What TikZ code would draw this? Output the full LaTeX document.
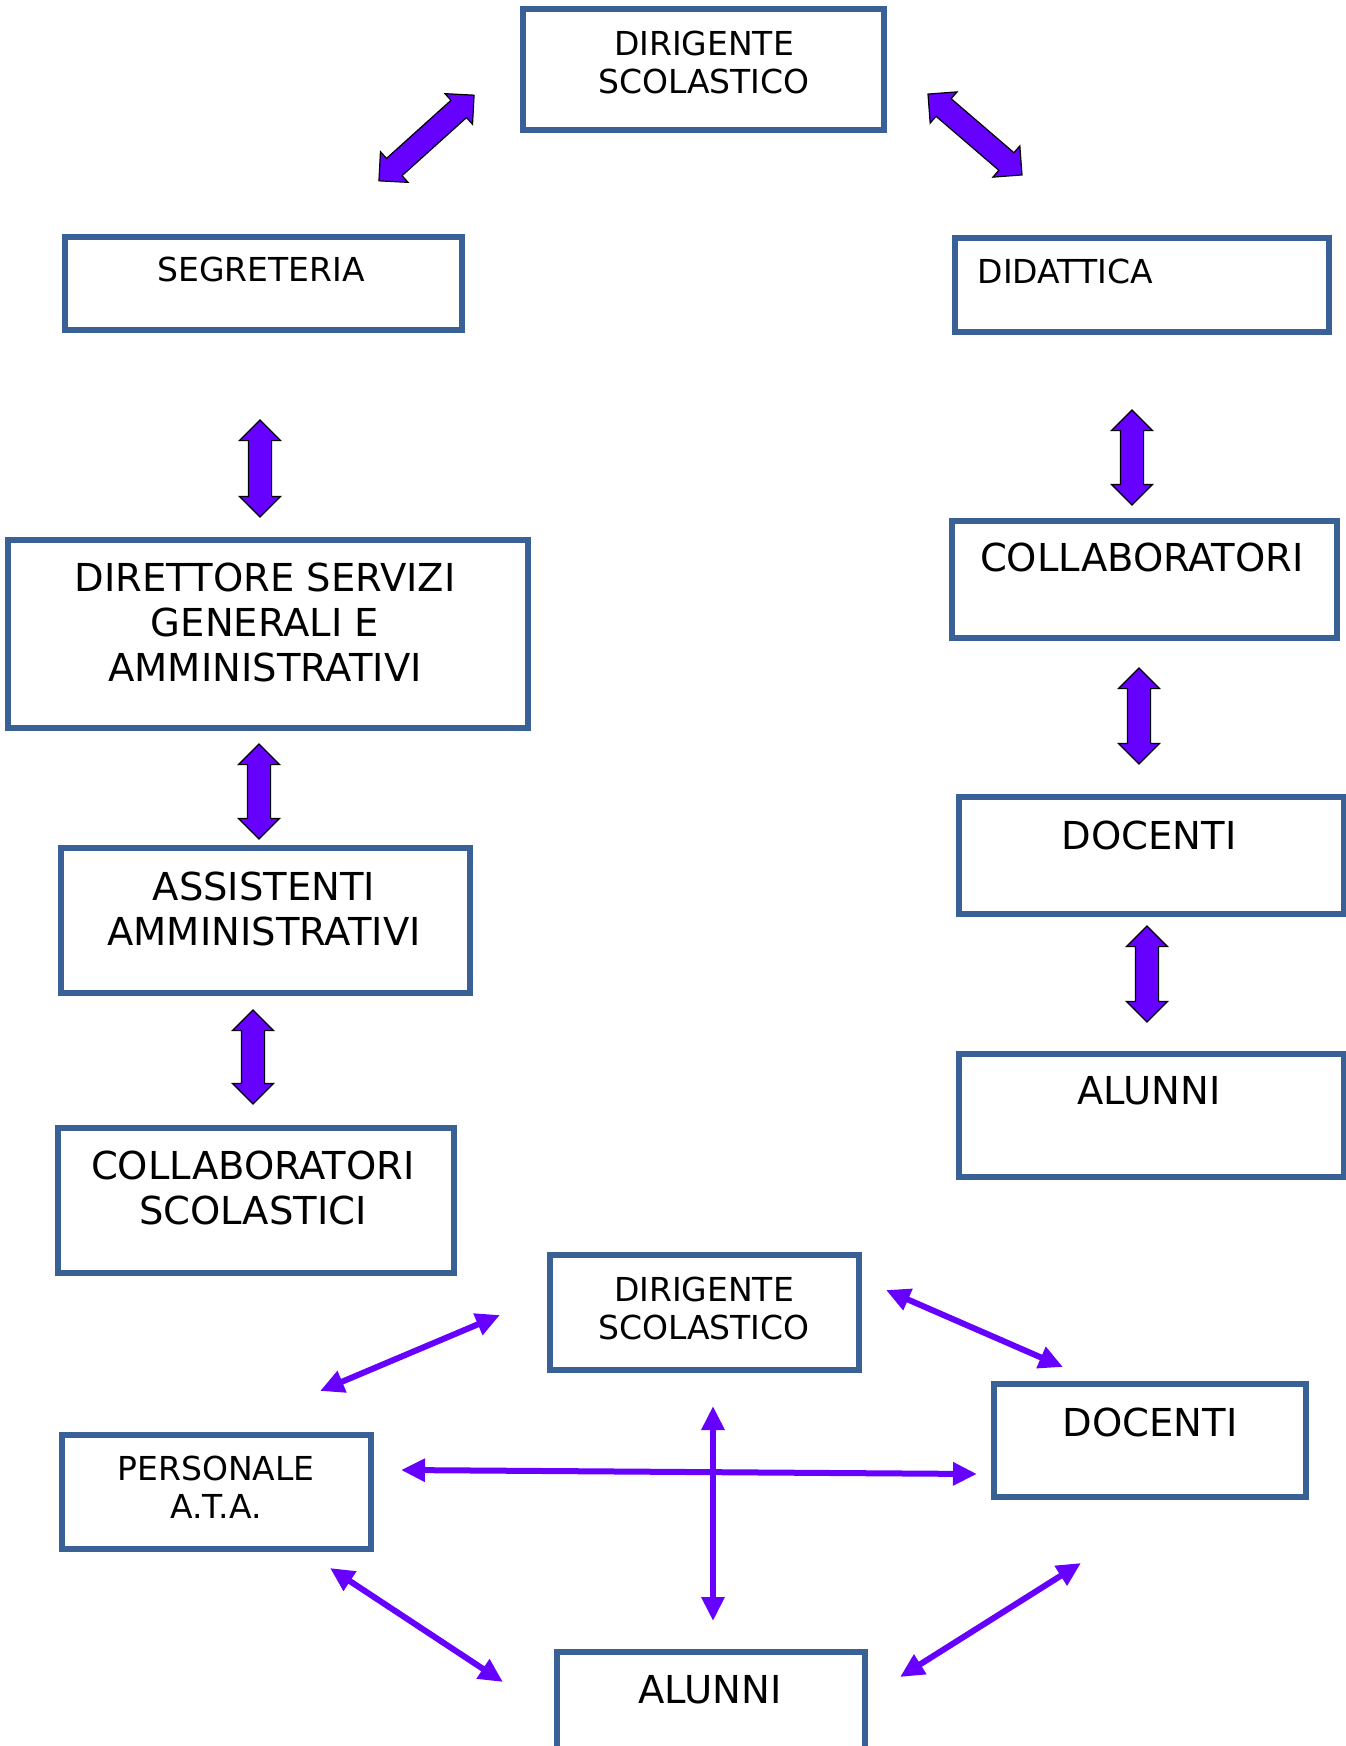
\documentclass[tikz,border=0pt]{standalone}
\usepackage{fontspec}
\setmainfont{DejaVu Sans}
\usepackage{tikz}
\usepackage{xcolor}
\usetikzlibrary{shapes.arrows,arrows.meta}
\definecolor{boxblue}{HTML}{3A6195}
\definecolor{arrowpurple}{HTML}{6600FF}

\begin{document}
\begin{tikzpicture}[x=1pt, y=-1pt, >={Triangle[length=24pt,width=22pt]},
    box/.style={draw=boxblue, line width=6pt, inner sep=0pt},
    small/.style={anchor=north, inner sep=0pt, align=center, font=\fontsize{33}{38}\selectfont},
    big/.style={anchor=north, inner sep=0pt, align=center, font=\fontsize{38.5}{45}\selectfont},
    fat/.style={double arrow, draw=black, line width=1.2pt, fill=arrowpurple, inner xsep=0pt, inner ysep=11pt,
        minimum width=40pt, double arrow head extend=9pt, double arrow head indent=0pt},
    link/.style={<->, draw=arrowpurple, line width=6pt}]
    \useasboundingbox (0,0) rectangle (1346,1746);

    \node[box, minimum width=361pt, minimum height=121pt] (dirA) at (703.5,69.5) {};
    \node[small] (dirAtxt) at (704,31) {DIRIGENTE\\SCOLASTICO};
    \node[box, minimum width=397pt, minimum height=93pt] (seg) at (263.5,283.5) {};
    \node[small] (segtxt) at (261,257) {SEGRETERIA};
    \node[box, minimum width=374pt, minimum height=94pt] (did) at (1142,285) {};
    \node[small, anchor=north west] (didtxt) at (977.5,259) {DIDATTICA};

    \node[box, minimum width=520pt, minimum height=188pt] (dsga) at (268,634) {};
    \node[big] (dsgatxt) at (265,563) {DIRETTORE SERVIZI\\GENERALI E\\AMMINISTRATIVI};
    \node[box, minimum width=409pt, minimum height=145pt] (ass) at (265.5,920.5) {};
    \node[big] (asstxt) at (264,872) {ASSISTENTI\\AMMINISTRATIVI};
    \node[box, minimum width=396pt, minimum height=145pt] (colS) at (256,1200.5) {};
    \node[big] (colStxt) at (253,1151) {COLLABORATORI\\SCOLASTICI};

    \node[box, minimum width=385pt, minimum height=117pt] (colR) at (1144.5,579.5) {};
    \node[big] (colRtxt) at (1142,543) {COLLABORATORI};
    \node[box, minimum width=385pt, minimum height=117pt] (docR) at (1151.5,855.5) {};
    \node[big] (docRtxt) at (1149,820.5) {DOCENTI};
    \node[box, minimum width=385pt, minimum height=123pt] (aluR) at (1151.5,1115.5) {};
    \node[big] (aluRtxt) at (1149,1076.5) {ALUNNI};

    \node[fat, minimum height=128pt, rotate=42] (f1) at (426.5,138) {};
    \node[fat, minimum height=124pt, rotate=-40.7] (f2) at (975,134.5) {};
    \node[fat, minimum height=97pt, rotate=90] (f3) at (260,468.5) {};
    \node[fat, minimum height=95pt, rotate=90] (f4) at (259,791.5) {};
    \node[fat, minimum height=94pt, rotate=90] (f5) at (253,1057) {};
    \node[fat, minimum height=95pt, rotate=90] (f6) at (1132,457.5) {};
    \node[fat, minimum height=96pt, rotate=90] (f7) at (1139,716) {};
    \node[fat, minimum height=96pt, rotate=90] (f8) at (1147,974) {};

    \node[box, minimum width=309pt, minimum height=115pt] (dirB) at (704.5,1312.5) {};
    \node[small] (dirBtxt) at (704,1277) {DIRIGENTE\\SCOLASTICO};
    \node[box, minimum width=312pt, minimum height=113pt] (docB) at (1150,1440.5) {};
    \node[big] (docBtxt) at (1150,1408) {DOCENTI};
    \node[box, minimum width=309pt, minimum height=114pt] (ata) at (216.5,1492) {};
    \node[small] (atatxt) at (216,1456) {PERSONALE\\A.T.A.};
    \node[box, minimum width=308pt, minimum height=108pt] (aluB) at (711,1706) {};
    \node[big] (aluBtxt) at (710,1675.5) {ALUNNI};

    \coordinate (a1s) at (320,1391);  \coordinate (a1e) at (500,1315);
    \coordinate (a2s) at (886,1290);  \coordinate (a2e) at (1063,1367);
    \coordinate (a3s) at (401,1470);  \coordinate (a3e) at (977,1474);
    \coordinate (a4s) at (713,1406);  \coordinate (a4e) at (713,1621);
    \coordinate (a5s) at (330,1568);  \coordinate (a5e) at (503,1682);
    \coordinate (a6s) at (900,1677);  \coordinate (a6e) at (1081,1563);
    \draw[link] (a1s) -- (a1e);
    \draw[link] (a2s) -- (a2e);
    \draw[link] (a3s) -- (a3e);
    \draw[link] (a4s) -- (a4e);
    \draw[link] (a5s) -- (a5e);
    \draw[link] (a6s) -- (a6e);
\end{tikzpicture}
\end{document}
